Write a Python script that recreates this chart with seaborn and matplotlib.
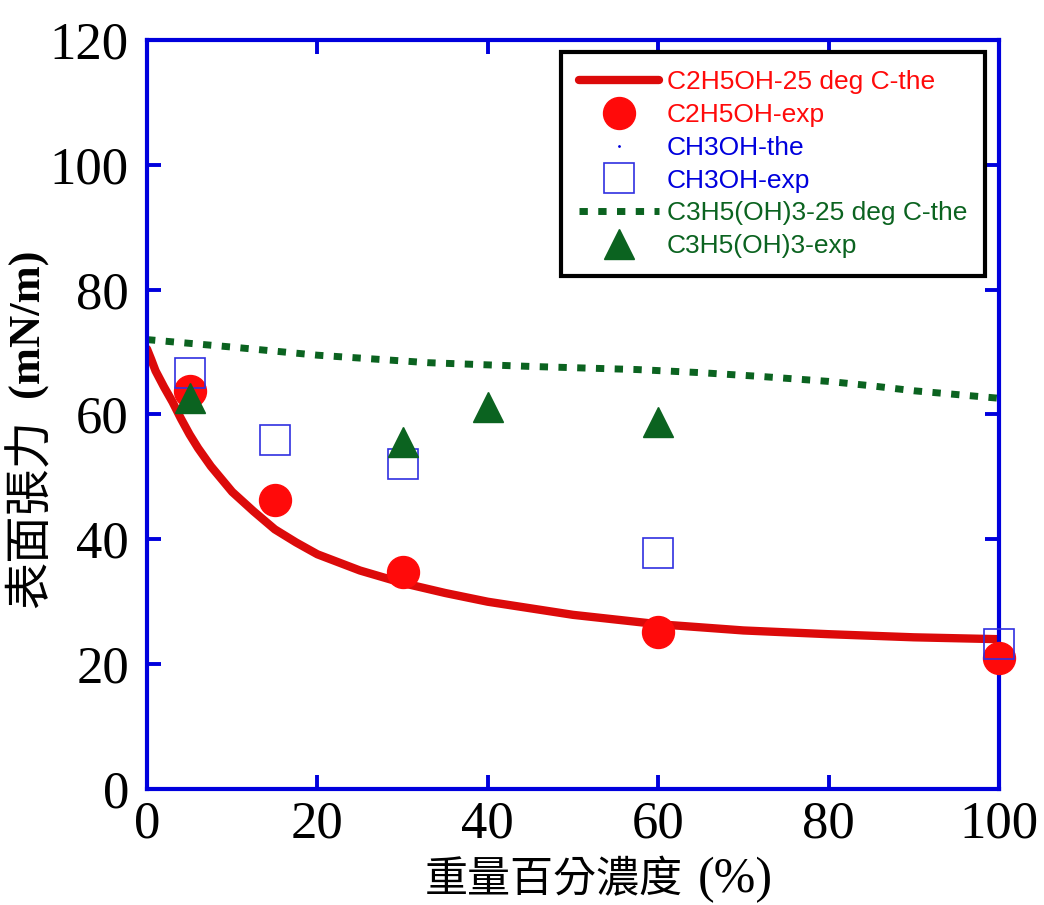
import matplotlib
matplotlib.use("Agg")
import matplotlib.pyplot as plt
import seaborn as sns
import numpy as np

# ---- data ----
c2h5oh_the_x = [0, 0.5, 1, 2, 3, 4, 5, 6, 7.5, 10, 12.5, 15, 17.5, 20, 25, 30, 35, 40, 50, 60, 70, 80, 90, 100]
c2h5oh_the_y = [70.5, 68.8, 67.0, 64.4, 62.0, 59.3, 56.8, 54.6, 51.7, 47.6, 44.5, 41.6, 39.5, 37.6, 35.0, 33.0, 31.4, 30.0, 27.9, 26.4, 25.4, 24.8, 24.3, 24.0]

c2h5oh_exp_x = [5, 15, 30, 60, 100]
c2h5oh_exp_y = [63.7, 46.3, 34.7, 25.1, 21.0]

ch3oh_the_x = []
ch3oh_the_y = []

ch3oh_exp_x = [5, 15, 30, 60, 100]
ch3oh_exp_y = [66.6, 55.9, 52.0, 37.8, 23.2]

c3h5oh3_the_x = [0, 10, 20, 33, 45, 57.5, 65, 72, 80, 85, 90, 95, 100]
c3h5oh3_the_y = [72.0, 70.8, 69.5, 68.3, 67.7, 67.2, 66.7, 66.1, 65.3, 64.6, 63.8, 63.2, 62.6]

c3h5oh3_exp_x = [5, 30, 40, 60]
c3h5oh3_exp_y = [62.6, 55.6, 61.2, 58.8]

labels = ["C2H5OH-25 deg C-the", "C2H5OH-exp", "CH3OH-the", "CH3OH-exp",
          "C3H5(OH)3-25 deg C-the", "C3H5(OH)3-exp"]

xticks = [0, 20, 40, 60, 80, 100]
yticks = [0, 20, 40, 60, 80, 100, 120]

xlabel_cjk = "重量百分濃度"
xlabel_unit = "(%)"
ylabel_cjk = "表面張力"
ylabel_unit = "(mN/m)"

# ---- style ----
sns.set_theme(style="white")
plt.rcParams['font.family'] = ['Liberation Serif', 'Noto Sans CJK TC', 'DejaVu Sans']

RED_LINE = '#dc0a0a'
RED = '#ff0a0a'
BLUE = '#0000dd'
SQ_BLUE = '#3030e0'
GREEN = '#0b6320'

fig = plt.figure(figsize=(10.44, 9.05), dpi=100)
ax = fig.add_axes([0.1408, 0.1282, 0.8161, 0.8276])

sns.lineplot(x=c2h5oh_the_x, y=c2h5oh_the_y, ax=ax, color=RED_LINE, linewidth=6,
             label=labels[0], zorder=2)
ax.plot(c2h5oh_exp_x, c2h5oh_exp_y, ls='none', marker='o', ms=23, color=RED,
        mec=RED, label=labels[1], zorder=3, clip_on=False)
ax.plot(ch3oh_the_x, ch3oh_the_y, ls='none', marker='.', ms=2, color=BLUE,
        label=labels[2])
ax.plot(ch3oh_exp_x, ch3oh_exp_y, ls='none', marker='s', ms=22, mfc='none',
        mec=SQ_BLUE, mew=1.2, color=BLUE, label=labels[3], zorder=4, clip_on=False)
sns.lineplot(x=c3h5oh3_the_x, y=c3h5oh3_the_y, ax=ax, color=GREEN, linewidth=5,
             linestyle=(0, (1.2, 1.5)), label=labels[4], zorder=2)
ax.plot(c3h5oh3_exp_x, c3h5oh3_exp_y, ls='none', marker='^', ms=22, color=GREEN,
        mec=GREEN, label=labels[5], zorder=5, clip_on=False)

ax.set_xlim(0, 100)
ax.set_ylim(0, 120)
ax.set_xticks(xticks)
ax.set_yticks(yticks)
ax.set_xticklabels([str(v) for v in xticks])
ax.set_yticklabels([str(v) for v in yticks])

for s in ax.spines.values():
    s.set_color(BLUE)
    s.set_linewidth(3)
    s.set_visible(True)

ax.tick_params(axis='both', which='major', direction='in', length=10, width=2.8,
               color=BLUE, top=True, right=True, bottom=True, left=True,
               labelsize=38, labelcolor='black')
ax.tick_params(axis='x', pad=8)
ax.tick_params(axis='y', pad=13)
for t in ax.get_xticklabels() + ax.get_yticklabels():
    t.set_family('Liberation Serif')

ax.set_xlabel("")
ax.set_ylabel("")

# x label: CJK part + serif unit
fig.text(683 / 1044, 1 - 880 / 905, xlabel_cjk, ha='right', va='center',
         fontsize=31, family=['Noto Sans CJK TC'], color='black')
fig.text(698 / 1044, 1 - 880 / 905, xlabel_unit, ha='left', va='center',
         fontsize=36, family=['Liberation Serif'], color='black')

# y label: CJK part + bold serif unit
fig.text(31 / 1044, 1 - 513 / 905, ylabel_cjk, ha='center', va='center', rotation=90,
         fontsize=34, family=['Noto Sans CJK TC'], color='black')
fig.text(28 / 1044, 1 - 323 / 905, ylabel_unit, ha='center', va='center', rotation=90,
         fontsize=32, family=['Liberation Serif'], weight='bold', color='black')

leg = ax.legend(loc='upper right', bbox_to_anchor=(0.984, 0.984),
                frameon=True, fancybox=False, edgecolor='black', framealpha=1,
                handlelength=3.0, handletextpad=0.3, labelspacing=0.33,
                borderpad=0.7, borderaxespad=0,
                prop={'family': 'Liberation Sans', 'size': 19})
leg.get_frame().set_linewidth(3)
text_colors = [RED, RED, BLUE, BLUE, GREEN, GREEN]
for t, c in zip(leg.get_texts(), text_colors):
    t.set_color(c)

ax.grid(False)
fig.savefig("out.png", dpi=100)
